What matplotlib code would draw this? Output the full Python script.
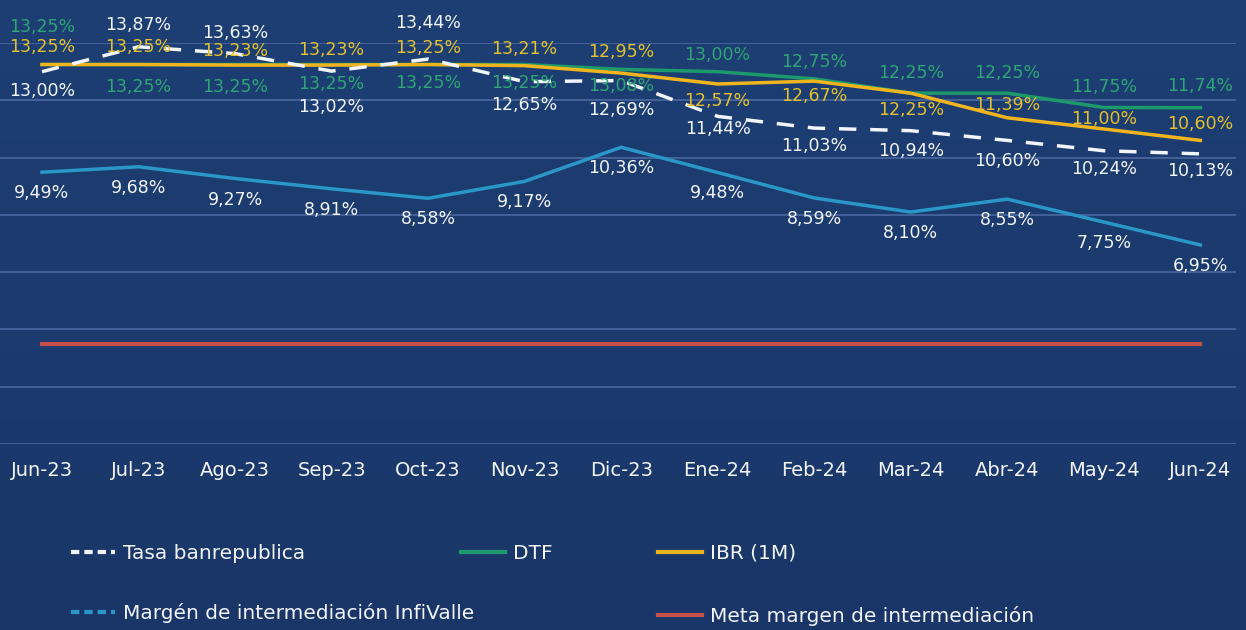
import matplotlib.pyplot as plt
import numpy as np
from matplotlib.lines import Line2D
from matplotlib.colors import LinearSegmentedColormap

# 数据
meses = ['Jun-23', 'Jul-23', 'Ago-23', 'Sep-23', 'Oct-23', 'Nov-23', 'Dic-23',
         'Ene-24', 'Feb-24', 'Mar-24', 'Abr-24', 'May-24', 'Jun-24']
tasa_banrep = [13.00, 13.87, 13.63, 13.02, 13.44, 12.65, 12.69, 11.44, 11.03, 10.94, 10.60, 10.24, 10.13]
dtf = [13.25, 13.25, 13.25, 13.25, 13.25, 13.25, 13.08, 13.00, 12.75, 12.25, 12.25, 11.75, 11.74]
ibr = [13.25, 13.25, 13.23, 13.23, 13.25, 13.21, 12.95, 12.57, 12.67, 12.25, 11.39, 11.00, 10.60]
margen = [9.49, 9.68, 9.27, 8.91, 8.58, 9.17, 10.36, 9.48, 8.59, 8.10, 8.55, 7.75, 6.95]
meta = [3.5] * 13

# 标签偏移（像素，正数向上）
banrep_dy = [-19, 22, 21, -36, 36, -23, -29, -13, -18, -20, -21, -18, -17]
ibr_dy = [18, 18, 14, 15, 17, 17, 21, -17, -15, -17, 13, 10, 16]
dtf_dy = [38, -22, -22, -19, -18, -18, -17, 17, 17, 20, 20, 20, 22]
margen_dy = [-21] * 13

bg = '#1c3b70'
c_white = '#f2f5fb'
c_green = '#1c9a6c'
c_yellow = '#f0b51e'
c_blue = '#2a97c8'
c_red = '#c8504a'
c_grid = '#4b68a0'

fig = plt.figure(figsize=(12.46, 6.3), dpi=100)
fig.patch.set_facecolor(bg)

# 背景渐变
bg_ax = fig.add_axes([0, 0, 1, 1], zorder=-10)
grad = np.linspace(0, 1, 256).reshape(-1, 1)
cmap = LinearSegmentedColormap.from_list('bg', ['#1d3f74', '#1a3668'])
bg_ax.imshow(grad, aspect='auto', cmap=cmap, extent=[0, 1, 0, 1])
bg_ax.axis('off')

x = np.arange(len(meses))
ax = fig.add_axes([0, 0.2952, 0.992, 0.6365])
ax.set_facecolor('none')
ax.set_xlim(-0.435, 12.37)
ax.set_ylim(0, 14)
ax.set_yticks(np.arange(0, 15, 2))
ax.grid(axis='y', color=c_grid, linewidth=1.2)
ax.set_axisbelow(True)
for s in ax.spines.values():
    s.set_visible(False)
ax.tick_params(axis='y', length=0, labelleft=False)
ax.tick_params(axis='x', length=0, pad=12, colors=c_white, labelsize=14)
ax.set_xticks(x)
ax.set_xticklabels(meses)

ax.plot(x, meta, color=c_red, linewidth=3)
ax.plot(x, margen, color=c_blue, linewidth=2.5)
ax.plot(x, dtf, color=c_green, linewidth=2.5)
ax.plot(x, ibr, color=c_yellow, linewidth=2.5)
ax.plot(x, tasa_banrep, color=c_white, linewidth=2.5, linestyle=(0, (5, 4)))

def etiquetas(vals, dys, color):
    for xi, v, dy in zip(x, vals, dys):
        ax.annotate(f'{v:.2f}%'.replace('.', ','), (xi, v), textcoords='offset pixels',
                    xytext=(0, dy), ha='center', va='center', fontsize=12.5,
                    color=color, annotation_clip=False)

etiquetas(dtf, dtf_dy, '#2fa474')
etiquetas(ibr, ibr_dy, '#e3c02c')
etiquetas(tasa_banrep, banrep_dy, c_white)
etiquetas(margen, margen_dy, c_white)

# 图例（手动放置）
items = [
    ('Tasa banrepublica', Line2D([], [], color=c_white, lw=3, ls=(0, (2, 1.2))), 0.057, 0.122),
    ('DTF', Line2D([], [], color=c_green, lw=3), 0.37, 0.122),
    ('IBR (1M)', Line2D([], [], color=c_yellow, lw=3), 0.528, 0.122),
    ('Margén de intermediación InfiValle', Line2D([], [], color=c_blue, lw=3, ls=(0, (2, 1.2))), 0.057, 0.027),
    ('Meta margen de intermediación', Line2D([], [], color=c_red, lw=3), 0.528, 0.022),
]
for label, h, lx, ly in items:
    fig.legend([h], [label], loc='center left', bbox_to_anchor=(lx, ly), frameon=False,
               fontsize=14.5, labelcolor=c_white, handlelength=2.2, handletextpad=0.4,
               borderpad=0, borderaxespad=0)

plt.savefig('out.png', dpi=100, facecolor=bg)
